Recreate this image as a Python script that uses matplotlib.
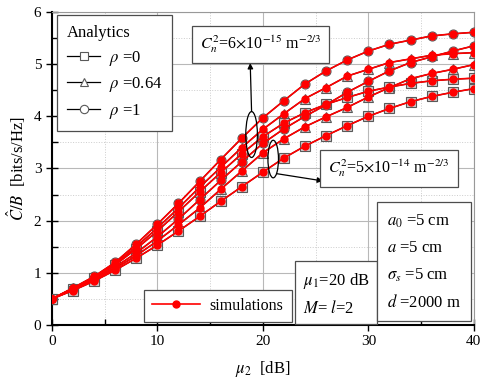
import numpy as np
import matplotlib
matplotlib.use("Agg")
import matplotlib.pyplot as plt
from matplotlib.lines import Line2D
from matplotlib.patches import Ellipse

plt.rcParams['font.family'] = ['Liberation Serif', 'DejaVu Serif']
plt.rcParams['mathtext.fontset'] = 'stix'

# mu_2 in dB
mu2 = np.arange(0, 41, 2)

# Cn^2 = 6e-15 (weak)
rho1_weak = [0.5, 0.71, 0.93, 1.2, 1.55, 1.93, 2.33, 2.75, 3.17, 3.58, 3.97,
             4.3, 4.62, 4.87, 5.08, 5.25, 5.38, 5.46, 5.54, 5.58, 5.61]
rho064_weak = [0.5, 0.70, 0.91, 1.17, 1.5, 1.86, 2.24, 2.64, 3.02, 3.4, 3.75,
               4.05, 4.34, 4.55, 4.77, 4.9, 5.03, 5.1, 5.17, 5.2, 5.22]
rho0_weak = [0.5, 0.69, 0.9, 1.15, 1.46, 1.8, 2.17, 2.55, 2.92, 3.28, 3.61,
             3.87, 4.07, 4.23, 4.36, 4.48, 4.56, 4.63, 4.68, 4.71, 4.73]
# Cn^2 = 5e-14 (strong)
rho1_strong = [0.5, 0.68, 0.88, 1.11, 1.38, 1.69, 2.03, 2.4, 2.77, 3.13, 3.48,
               3.76, 4.0, 4.22, 4.46, 4.67, 4.87, 5.03, 5.14, 5.25, 5.35]
rho064_strong = [0.5, 0.67, 0.86, 1.08, 1.33, 1.61, 1.92, 2.24, 2.6, 2.95, 3.3,
                 3.57, 3.8, 3.99, 4.17, 4.37, 4.55, 4.72, 4.82, 4.9, 4.99]
rho0_strong = [0.5, 0.66, 0.84, 1.05, 1.28, 1.53, 1.8, 2.08, 2.37, 2.65, 2.93,
               3.2, 3.43, 3.63, 3.82, 4.0, 4.15, 4.28, 4.38, 4.46, 4.53]

curves = [(rho1_weak, 'o'), (rho064_weak, '^'), (rho0_weak, 's'),
          (rho1_strong, 'o'), (rho064_strong, '^'), (rho0_strong, 's')]

fig = plt.figure(figsize=(4.85, 3.85), dpi=100)
ax = fig.add_axes([0.107, 0.156, 0.87, 0.813])

# analytics
for y, m in curves:
    ax.plot(mu2, y, color='black', lw=0.9, marker=m, ms=6.5,
            mfc='0.8', mec='0.35', mew=0.8, zorder=3)
# simulations
for y, m in curves:
    ax.plot(mu2, y, color='red', lw=1.2, marker='o', ms=5,
            mfc='red', mec='red', zorder=4)

ax.set_xlim(0, 40)
ax.set_ylim(0, 6)
ax.set_xticks([0, 10, 20, 30, 40])
ax.set_xticks([5, 15, 25, 35], minor=True)
ax.set_yticks(range(7))
ax.set_yticks(np.arange(0.5, 6, 1), minor=True)
ax.grid(True, which='major', color='0.72', lw=0.8)
ax.grid(True, which='minor', color='0.8', lw=0.7, ls=':')
ax.set_axisbelow(True)
ax.tick_params(which='major', direction='inout', length=8, width=1,
               labelsize=11, top=False, right=False)
ax.tick_params(which='minor', direction='in', length=4, width=1,
               top=False, right=False)
for s in ['left', 'bottom']:
    ax.spines[s].set_linewidth(1.5)
for s in ['top', 'right']:
    ax.spines[s].set_color('0.6')
    ax.spines[s].set_linewidth(0.8)

ax.set_xlabel(r'$\mu_2$  [dB]', fontsize=12, labelpad=8)
ax.set_ylabel(r'$\hat{C}/B$  [bits/s/Hz]', fontsize=12, labelpad=4)

# legends
h_an = [Line2D([], [], color='black', lw=0.9, marker=m, ms=6, mfc='white',
               mec='0.35', mew=0.8) for m in ['s', '^', 'o']]
leg1 = ax.legend(h_an, [r'$\rho$ =0', r'$\rho$ =0.64', r'$\rho$ =1'],
                 title='Analytics', loc='upper left', bbox_to_anchor=(0.012, 0.99),
                 borderaxespad=0, fontsize=12, title_fontsize=12, fancybox=False,
                 edgecolor='0.3', framealpha=1, handlelength=2.0,
                 borderpad=0.6, labelspacing=0.45, handletextpad=0.5)
leg1._legend_box.align = 'left'
leg1.get_frame().set_linewidth(0.9)
ax.add_artist(leg1)

h_sim = [Line2D([], [], color='red', lw=1.2, marker='o', ms=5, mfc='red', mec='red')]
leg2 = ax.legend(h_sim, ['simulations'], loc='lower left',
                 bbox_to_anchor=(0.219, 0.01), borderaxespad=0, fontsize=11.5,
                 fancybox=False, edgecolor='0.3', framealpha=1, handlelength=3.0,
                 borderpad=0.5, handletextpad=0.6)
leg2.get_frame().set_linewidth(0.9)

box = dict(boxstyle='square,pad=0.5', fc='white', ec='0.3', lw=0.9)

ax.text(14.0, 5.38, r'$C_n^2$=6$\times$10$^{-15}$ m$^{-2/3}$', fontsize=11.5,
        bbox=box, va='center', zorder=6)
ax.text(26.2, 3.0, r'$C_n^2$=5$\times$10$^{-14}$ m$^{-2/3}$', fontsize=11.5,
        bbox=box, va='center', zorder=6)

ax.add_patch(Ellipse((18.93, 3.65), 1.1, 0.88, fill=False, ec='black', lw=0.9, zorder=5))
ax.add_patch(Ellipse((20.98, 3.18), 1.0, 0.72, fill=False, ec='black', lw=0.9, zorder=5))
ax.annotate('', xy=(18.8, 5.02), xytext=(18.93, 4.09),
            arrowprops=dict(arrowstyle='-|>', color='black', lw=0.9,
                            mutation_scale=8, shrinkA=0, shrinkB=0), zorder=5)
ax.annotate('', xy=(25.7, 2.76), xytext=(21.3, 2.9),
            arrowprops=dict(arrowstyle='-|>', color='black', lw=0.9,
                            mutation_scale=8, shrinkA=0, shrinkB=0), zorder=5)

ax.text(23.8, 0.6, r'$\mu_1$=20 dB' + '\n' + r'$M$= $l$=2', fontsize=12,
        bbox=dict(boxstyle='square,pad=0.45', fc='white', ec='0.3', lw=0.9),
        va='center', linespacing=1.7, zorder=6)
ax.text(31.8, 1.21, r'$a_0$ =5 cm' + '\n' + r'$a$ =5 cm' + '\n' +
        r'$\sigma_s$ =5 cm' + '\n' + r'$d$ =2000 m', fontsize=12,
        bbox=dict(boxstyle='square,pad=0.6', fc='white', ec='0.3', lw=0.9),
        va='center', linespacing=1.8, zorder=6)

fig.savefig('out.png', dpi=100)
